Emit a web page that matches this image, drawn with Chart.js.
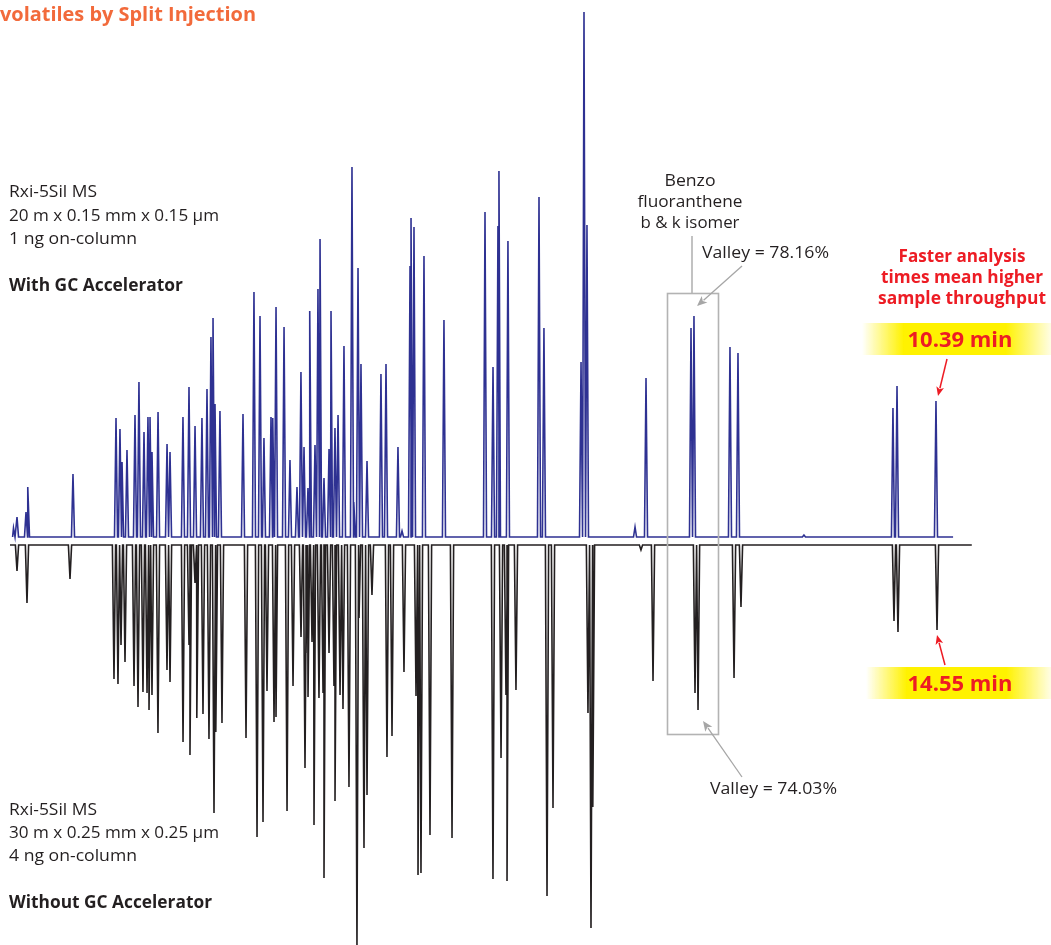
<!DOCTYPE html>
<html>
<head>
<meta charset="utf-8">
<title>Semivolatiles by Split Injection</title>
<script src="https://cdn.jsdelivr.net/npm/chart.js@4.4.1/dist/chart.umd.min.js"></script>
<style>
  html, body { margin: 0; padding: 0; background: #fff; overflow: hidden; }
  #chart { display: block; }
</style>
</head>
<body>
<canvas id="chart" width="1051" height="945"></canvas>
<script>
// Top run: Rxi-5Sil MS 20 m, with GC Accelerator (retention time in min, peak height)
const fastTimes = [0.150, 0.189, 0.289, 0.311, 0.811, 1.289, 1.333, 1.356, 1.411, 1.500,
    1.544, 1.600, 1.644, 1.667, 1.689, 1.756, 1.856, 1.889, 2.033, 2.100,
    2.167, 2.244, 2.300, 2.344, 2.367, 2.389, 2.444, 2.700, 2.822, 2.889,
    2.933, 3.011, 3.033, 3.067, 3.156, 3.222, 3.300, 3.344, 3.378, 3.422,
    3.444, 3.500, 3.533, 3.556, 3.600, 3.656, 3.678, 3.722, 3.756, 3.822,
    3.911, 3.933, 3.978, 4.011, 4.078, 4.233, 4.289, 4.422, 4.467, 4.556,
    4.567, 4.600, 4.711, 4.933, 5.389, 5.478, 5.533, 5.544, 5.644, 5.989,
    6.044, 6.456, 6.489, 6.522, 7.056, 7.178, 7.678, 7.711, 8.111, 8.200,
    8.933, 9.922, 9.967, 10.400];
const fastHeights = [9, 20, 25, 50, 63, 119, 108, 75, 87, 122,
    155, 105, 120, 120, 85, 125, 93, 85, 120, 150,
    111, 119, 148, 200, 219, 133, 126, 123, 245, 221,
    99, 120, 119, 230, 210, 77, 50, 165, 90, 49,
    226, 92, 248, 298, 59, 88, 226, 109, 122, 191,
    370, 35, 269, 173, 76, 163, 173, 90, 6, 271,
    319, 310, 281, 217, 325, 170, 311, 366, 296, 340,
    209, 175, 525, 312, 10, 159, 209, 221, 190, 184,
    2, 129, 151, 136];
const fastStart = 0.14;
const fastEnd = 10.59;

// Bottom run: Rxi-5Sil MS 30 m, without GC Accelerator (retention time in min, peak height)
const slowTimes = [0.264, 0.419, 1.087, 1.770, 1.832, 1.879, 1.941, 2.081, 2.143, 2.220,
    2.283, 2.314, 2.360, 2.453, 2.593, 2.640, 2.842, 2.935, 2.950, 3.028,
    3.059, 3.152, 3.245, 3.323, 3.354, 3.447, 3.820, 3.991, 4.084, 4.146,
    4.255, 4.286, 4.457, 4.550, 4.674, 4.736, 4.752, 4.783, 4.845, 4.876,
    4.953, 5.016, 5.031, 5.109, 5.186, 5.202, 5.280, 5.326, 5.419, 5.543,
    5.575, 5.652, 5.699, 5.776, 6.009, 6.087, 6.273, 6.460, 6.491, 6.537,
    6.677, 7.019, 7.655, 7.780, 7.857, 7.873, 8.012, 8.494, 8.587, 9.130,
    9.177, 9.208, 9.953, 10.140, 10.792, 10.839, 11.398, 11.506, 13.882, 13.944,
    14.550];
const slowHeights = [26, 58, 34, 134, 139, 100, 117, 141, 162, 147,
    148, 165, 150, 188, 125, 137, 197, 100, 210, 38,
    173, 169, 194, 268, 187, 178, 193, 292, 277, 146,
    177, 172, 266, 141, 92, 223, 108, 152, 97, 280,
    153, 148, 333, 108, 141, 256, 150, 164, 242, 402,
    73, 303, 250, 50, 212, 191, 127, 151, 330, 328,
    290, 293, 334, 213, 150, 336, 145, 351, 263, 168,
    383, 262, 5, 136, 148, 165, 133, 62, 76, 87,
    85];
const slowStart = 0.155;
const slowEnd = 15.09;

const fastBase = 8;
const slowBase = 0;

// turn a peak table into a spike trace
function buildTrace(times, heights, base, halfWidth, start, end, sign) {
    const pts = [{ x: start, y: base }];
    times.forEach((t, i) => {
        const lastX = pts[pts.length - 1].x;
        const left = Math.min(t, Math.max(t - halfWidth, lastX));
        pts.push({ x: left, y: base });
        pts.push({ x: t, y: base + sign * heights[i] });
        pts.push({ x: t + halfWidth, y: base });
    });
    pts.push({ x: end, y: base });
    return pts;
}

function fitText(ctx, text, x, y, width, font, color, align) {
    ctx.save();
    ctx.font = font;
    ctx.fillStyle = color;
    ctx.textBaseline = 'alphabetic';
    ctx.textAlign = 'left';
    const w = ctx.measureText(text).width;
    const left = align === 'center' ? x - width / 2 : x;
    ctx.translate(left, y);
    ctx.scale(width / w, 1);
    ctx.fillText(text, 0, 0);
    ctx.restore();
}

function arrow(ctx, x1, y1, x2, y2, color, lw, head) {
    const a = Math.atan2(y2 - y1, x2 - x1);
    ctx.save();
    ctx.strokeStyle = color;
    ctx.fillStyle = color;
    ctx.lineWidth = lw;
    ctx.beginPath();
    ctx.moveTo(x1, y1);
    ctx.lineTo(x2 - Math.cos(a) * head * 0.8, y2 - Math.sin(a) * head * 0.8);
    ctx.stroke();
    ctx.beginPath();
    ctx.moveTo(x2, y2);
    ctx.lineTo(x2 - head * Math.cos(a - 0.4), y2 - head * Math.sin(a - 0.4));
    ctx.lineTo(x2 - head * 0.7 * Math.cos(a), y2 - head * 0.7 * Math.sin(a));
    ctx.lineTo(x2 - head * Math.cos(a + 0.4), y2 - head * Math.sin(a + 0.4));
    ctx.closePath();
    ctx.fill();
    ctx.restore();
}

function yellowBand(ctx, x, y, w, h) {
    const g = ctx.createLinearGradient(x, 0, x + w, 0);
    g.addColorStop(0, 'rgba(255,242,0,0)');
    g.addColorStop(0.22, 'rgba(255,242,0,1)');
    g.addColorStop(0.76, 'rgba(255,242,0,1)');
    g.addColorStop(1, 'rgba(255,242,0,0.1)');
    ctx.fillStyle = g;
    ctx.fillRect(x, y, w, h);
}

const notes = {
    id: 'notes',
    afterDraw(chart) {
        const ctx = chart.ctx;
        const reg = '"Open Sans", "Noto Sans", sans-serif';
        const dark = '#231f20';
        const red = '#ed1c24';
        const grey = '#b3b3b3';

        fitText(ctx, 'volatiles by Split Injection', 0, 21, 256, 'bold 20px ' + reg, '#f26a3b');

        fitText(ctx, 'Rxi-5Sil MS', 9, 197, 88, '17px ' + reg, dark);
        fitText(ctx, '20 m x 0.15 mm x 0.15 µm', 9, 221, 210, '17px ' + reg, dark);
        fitText(ctx, '1 ng on-column', 9, 244, 128, '17px ' + reg, dark);
        fitText(ctx, 'With GC Accelerator', 9, 291, 174, 'bold 17px ' + reg, dark);

        fitText(ctx, 'Rxi-5Sil MS', 9, 815, 88, '17px ' + reg, dark);
        fitText(ctx, '30 m x 0.25 mm x 0.25 µm', 9, 838, 210, '17px ' + reg, dark);
        fitText(ctx, '4 ng on-column', 9, 861, 128, '17px ' + reg, dark);
        fitText(ctx, 'Without GC Accelerator', 9, 908, 203, 'bold 17px ' + reg, dark);

        // benzo fluoranthene pair
        fitText(ctx, 'Benzo', 690, 186, 51, '17px ' + reg, dark, 'center');
        fitText(ctx, 'fluoranthene', 690, 207, 105, '17px ' + reg, dark, 'center');
        fitText(ctx, 'b & k isomer', 690, 228, 99, '17px ' + reg, dark, 'center');
        ctx.save();
        ctx.strokeStyle = grey;
        ctx.lineWidth = 1.6;
        ctx.strokeRect(667.5, 293.5, 51, 441);
        ctx.beginPath();
        ctx.moveTo(692, 236);
        ctx.lineTo(692, 293);
        ctx.stroke();
        ctx.restore();
        fitText(ctx, 'Valley = 78.16%', 702, 258, 127, '17px ' + reg, dark);
        arrow(ctx, 742, 266, 697, 306, '#a6a6a6', 1.3, 11);
        fitText(ctx, 'Valley = 74.03%', 710, 794, 127, '17px ' + reg, dark);
        arrow(ctx, 742, 777, 703, 721, '#a6a6a6', 1.3, 11);

        // run time call-outs
        fitText(ctx, 'Faster analysis', 962, 262, 127, 'bold 17px ' + reg, red, 'center');
        fitText(ctx, 'times mean higher', 962, 283, 162, 'bold 17px ' + reg, red, 'center');
        fitText(ctx, 'sample throughput', 962, 304, 168, 'bold 17px ' + reg, red, 'center');

        yellowBand(ctx, 862, 323, 189, 32);
        fitText(ctx, '10.39 min', 960, 347, 105, 'bold 22px ' + reg, red, 'center');
        arrow(ctx, 947, 359, 938, 396, red, 1.5, 10);

        yellowBand(ctx, 866, 667, 185, 32);
        fitText(ctx, '14.55 min', 960, 691, 105, 'bold 22px ' + reg, red, 'center');
        arrow(ctx, 945, 665, 937, 635, red, 1.5, 10);
    }
};

const fastTrace = buildTrace(fastTimes, fastHeights, fastBase, 0.017, fastStart, fastEnd, 1);
const slowTrace = buildTrace(slowTimes, slowHeights, slowBase, 0.025, slowStart, slowEnd, -1);

new Chart(document.getElementById('chart'), {
    type: 'line',
    data: {
        datasets: [
            {
                label: 'With GC Accelerator',
                data: fastTrace,
                xAxisID: 'xTop',
                borderColor: '#2e3192',
                borderWidth: 1.6,
                pointRadius: 0,
                tension: 0,
                clip: false
            },
            {
                label: 'Without GC Accelerator',
                data: slowTrace,
                xAxisID: 'xBot',
                borderColor: '#231f20',
                borderWidth: 1.6,
                pointRadius: 0,
                tension: 0,
                clip: false
            }
        ]
    },
    options: {
        responsive: false,
        animation: false,
        layout: { padding: 0 },
        plugins: {
            legend: { display: false },
            tooltip: { enabled: false }
        },
        scales: {
            xTop: { type: 'linear', display: false, min: 0, max: 11.678 },
            xBot: { type: 'linear', display: false, min: 0, max: 16.32 },
            y: { type: 'linear', display: false, min: -400, max: 545 }
        }
    },
    plugins: [notes]
});
</script>
</body>
</html>
